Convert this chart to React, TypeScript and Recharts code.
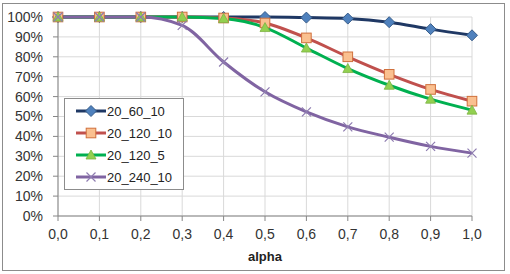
import { LineChart, Line, XAxis, YAxis, CartesianGrid, Label } from 'recharts'

const alpha = [0, 0.1, 0.2, 0.3, 0.4, 0.5, 0.6, 0.7, 0.8, 0.9, 1.0]
const s20_60_10 = [100, 100, 100, 100, 100, 100, 99.7, 99.2, 97.4, 93.9, 90.8]
const s20_120_10 = [100, 100, 100, 100, 99.5, 97, 89.5, 80, 71.2, 63.6, 57.7]
const s20_120_5 = [100, 100, 100, 100, 99.2, 94.7, 84.4, 74.1, 65.7, 58.7, 53.2]
const s20_240_10 = [100, 100, 100, 95.8, 77.4, 62.4, 52.3, 44.8, 39.6, 35, 31.6]
const yTicks = [0, 10, 20, 30, 40, 50, 60, 70, 80, 90, 100]

const series = [
  { key: 'a', name: '20_60_10', values: s20_60_10, color: '#1F3864', marker: 'diamond' },
  { key: 'b', name: '20_120_10', values: s20_120_10, color: '#C0504D', marker: 'square' },
  { key: 'c', name: '20_120_5', values: s20_120_5, color: '#00B050', marker: 'triangle' },
  { key: 'd', name: '20_240_10', values: s20_240_10, color: '#8064A2', marker: 'cross' },
]

const data = alpha.map((x, i) => {
  const row: Record<string, number> = { alpha: x }
  series.forEach(s => { row[s.key] = s.values[i] })
  return row
})

const font = '"Liberation Sans", Arial, sans-serif'

function Marker({ kind, cx, cy }: { kind: string; cx: number; cy: number }) {
  if (kind === 'diamond') {
    const r = 5.5
    return <path d={`M${cx},${cy - r}L${cx + r},${cy}L${cx},${cy + r}L${cx - r},${cy}Z`} fill="#4F81BD" stroke="#385D8A" strokeWidth={1} />
  }
  if (kind === 'square') {
    const r = 4.8
    return <rect x={cx - r} y={cy - r} width={r * 2} height={r * 2} fill="#FAC090" stroke="#D0703C" strokeWidth={1} />
  }
  if (kind === 'triangle') {
    const r = 5
    return <path d={`M${cx},${cy - r}L${cx + r},${cy + r * 0.8}L${cx - r},${cy + r * 0.8}Z`} fill="#92D050" stroke="#7CB342" strokeWidth={0.8} />
  }
  const r = 4.5
  return <path d={`M${cx - r},${cy - r}L${cx + r},${cy + r}M${cx - r},${cy + r}L${cx + r},${cy - r}`} stroke="#8E7CB0" strokeWidth={1.2} fill="none" />
}

export default function App() {
  return (
    <div style={{ position: 'absolute', left: 0, top: 0, width: 510, height: 274, background: '#fff', fontFamily: font }}>
      <div style={{ position: 'absolute', left: 2, top: 3, width: 503, height: 268, border: '1px solid #8c8c8c', boxSizing: 'border-box' }} />
      <div style={{ position: 'absolute', left: 0, top: 0 }}>
        <LineChart width={510} height={274} data={data} margin={{ top: 17, right: 38, left: 0, bottom: 0 }}>
          <CartesianGrid stroke="#d9d9d9" strokeWidth={1} />
          <XAxis
            dataKey="alpha"
            type="number"
            domain={[0, 1]}
            ticks={alpha}
            interval={0}
            tickFormatter={(v: number) => v.toFixed(1).replace('.', ',')}
            height={58}
            stroke="#868686"
            tickSize={5}
            tickMargin={8}
            tick={{ fill: '#333', fontSize: 14, fontFamily: font }}
          >
            <Label value="alpha" position="insideBottom" offset={13} style={{ fontWeight: 'bold', fontSize: 13, fill: '#222', fontFamily: font }} />
          </XAxis>
          <YAxis
            type="number"
            domain={[0, 100]}
            ticks={yTicks}
            interval={0}
            tickFormatter={(v: number) => `${v}%`}
            width={58}
            stroke="#868686"
            tickSize={5}
            tickMargin={10}
            tick={{ fill: '#333', fontSize: 14, fontFamily: font }}
          />
          {series.map(s => (
            <Line
              key={s.key}
              dataKey={s.key}
              name={s.name}
              type="monotone"
              stroke={s.color}
              strokeWidth={3}
              isAnimationActive={false}
              dot={(p: any) => <Marker key={`${s.key}-${p.index}`} kind={s.marker} cx={p.cx} cy={p.cy} />}
              activeDot={false}
            />
          ))}
        </LineChart>
      </div>
      <div style={{ position: 'absolute', left: 64, top: 98, width: 120, height: 92, border: '1px solid #8c8c8c', boxSizing: 'border-box', background: '#fff', paddingTop: 1 }}>
        {series.map(s => (
          <div key={s.key} style={{ display: 'flex', alignItems: 'center', height: 22, marginLeft: 11 }}>
            <svg width={30} height={14} style={{ display: 'block' }}>
              <line x1={0} y1={7} x2={30} y2={7} stroke={s.color} strokeWidth={3} />
              <Marker kind={s.marker} cx={15} cy={7} />
            </svg>
            <span style={{ fontSize: 13, color: '#222', marginLeft: 1 }}>{s.name}</span>
          </div>
        ))}
      </div>
    </div>
  )
}
